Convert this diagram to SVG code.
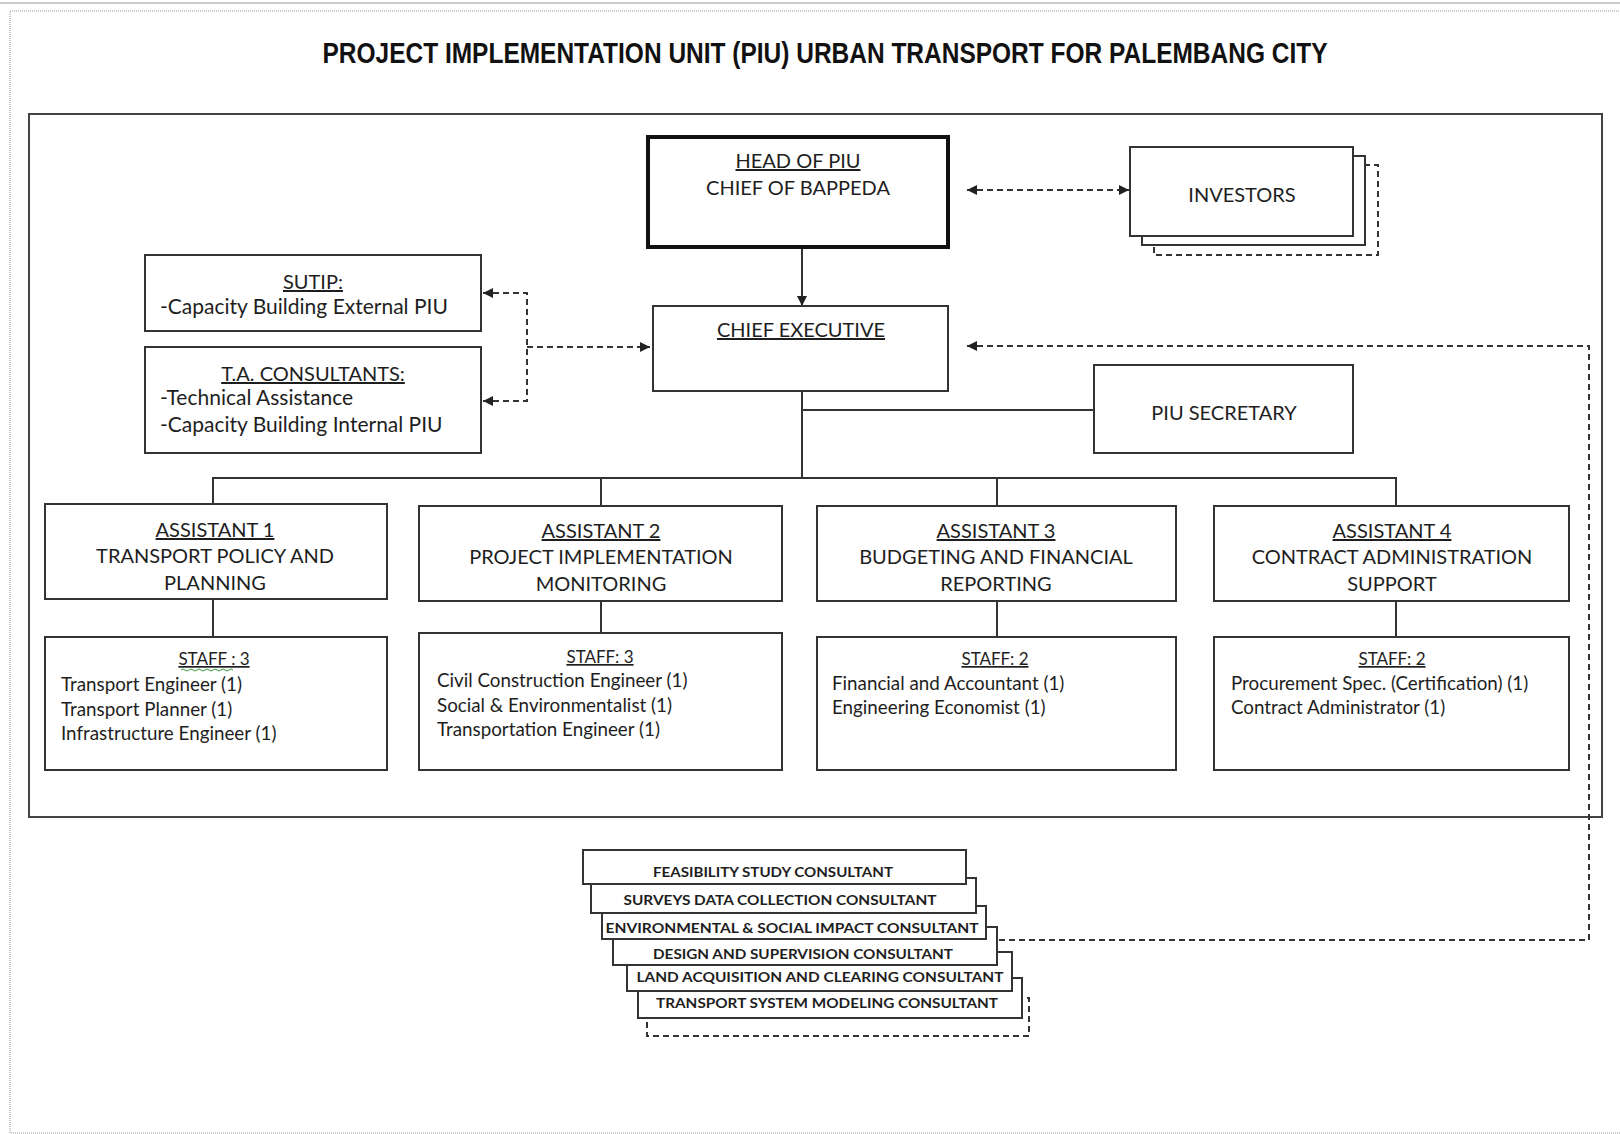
<svg xmlns="http://www.w3.org/2000/svg" width="1620" height="1134" viewBox="0 0 1620 1134">
<style>
.box{fill:#fff;stroke:#333;stroke-width:2}
.dbox{fill:#fff;stroke:#333;stroke-width:2;stroke-dasharray:6 4}
.t{font-family:Lato,"Liberation Sans",sans-serif;fill:#1e1e1e}
.h{font-size:20px;text-anchor:middle}
.s{font-size:21px}
.st{font-size:18.8px}
.sh{font-size:17px;text-anchor:middle}
.c{font-size:14px;font-weight:bold;text-anchor:middle}
.u{text-decoration:underline}
.conn{stroke:#333;stroke-width:2;fill:none}
.dash{stroke:#333;stroke-width:2;fill:none;stroke-dasharray:6 4}
</style>
<defs>
<marker id="arr" viewBox="0 0 10 10" refX="10" refY="5" markerWidth="10" markerHeight="10" markerUnits="userSpaceOnUse" orient="auto-start-reverse">
<path d="M0,0 L10,5 L0,10 z" fill="#222"/>
</marker>
</defs>
<rect width="1620" height="1134" fill="#fff"/>
<line x1="0" y1="3" x2="1620" y2="3" stroke="#ccc" stroke-width="2"/>
<rect x="10" y="11" width="1640" height="1122" fill="none" stroke="#999" stroke-width="1" stroke-dasharray="1 1"/>
<text x="825" y="63" font-family="'Liberation Sans',Arial,sans-serif" font-weight="bold" font-size="29" text-anchor="middle" fill="#111" textLength="1005" lengthAdjust="spacingAndGlyphs">PROJECT IMPLEMENTATION UNIT (PIU) URBAN TRANSPORT FOR PALEMBANG CITY</text>
<rect id="frame" x="29" y="114" width="1573" height="703" fill="none" stroke="#444" stroke-width="2"/>

<g id="connectors">
<path class="conn" d="M802,247 V306" marker-end="url(#arr)"/>
<path class="dash" d="M967,190 H1129" marker-start="url(#arr)" marker-end="url(#arr)"/>
<path class="dash" d="M483,293 H527 V401 H483" marker-start="url(#arr)" marker-end="url(#arr)"/>
<path class="dash" d="M527,347 H650" marker-end="url(#arr)"/>
<path class="conn" d="M802,391 V478"/>
<path class="conn" d="M802,410 H1094"/>
<path class="conn" d="M213,504 V478 H1396 V506"/>
<path class="conn" d="M601,478 V506"/>
<path class="conn" d="M997,478 V506"/>
<path class="conn" d="M213,599 V637"/>
<path class="conn" d="M601,601 V633"/>
<path class="conn" d="M997,601 V637"/>
<path class="conn" d="M1396,601 V637"/>
<path class="dash" d="M999,940 H1589 V346 H967" marker-end="url(#arr)"/>
</g>

<g id="head">
<rect x="648" y="137" width="300" height="110" fill="#fff" stroke="#111" stroke-width="4"/>
<text class="t h u" x="798" y="168">HEAD OF PIU</text>
<text class="t h" x="798" y="195">CHIEF OF BAPPEDA</text>
</g>

<g id="investors">
<rect class="dbox" x="1154" y="165" width="224" height="90"/>
<rect class="box" x="1142" y="156" width="223" height="89"/>
<rect class="box" x="1130" y="147" width="223" height="89"/>
<text class="t h" x="1242" y="202">INVESTORS</text>
</g>

<g id="chief-executive">
<rect class="box" x="653" y="306" width="295" height="85"/>
<text class="t h u" x="801" y="337">CHIEF EXECUTIVE</text>
</g>

<g id="sutip">
<rect class="box" x="145" y="255" width="336" height="76"/>
<text class="t h u" x="313" y="289">SUTIP:</text>
<text class="t s" x="160" y="314">-Capacity Building External PIU</text>
</g>

<g id="ta-consultants">
<rect class="box" x="145" y="347" width="336" height="106"/>
<text class="t h u" x="313" y="381">T.A. CONSULTANTS:</text>
<text class="t s" x="160" y="405">-Technical Assistance</text>
<text class="t s" x="160" y="432">-Capacity Building Internal PIU</text>
</g>

<g id="piu-secretary">
<rect class="box" x="1094" y="365" width="259" height="88"/>
<text class="t h" x="1224" y="420">PIU SECRETARY</text>
</g>

<g id="assistant-1">
<rect class="box" x="45" y="504" width="342" height="95"/>
<text class="t h u" x="215" y="537">ASSISTANT 1</text>
<text class="t h" x="215" y="563">TRANSPORT POLICY AND</text>
<text class="t h" x="215" y="590">PLANNING</text>
</g>
<g id="assistant-2">
<rect class="box" x="419" y="506" width="363" height="95"/>
<text class="t h u" x="601" y="538">ASSISTANT 2</text>
<text class="t h" x="601" y="564">PROJECT IMPLEMENTATION</text>
<text class="t h" x="601" y="591">MONITORING</text>
</g>
<g id="assistant-3">
<rect class="box" x="817" y="506" width="359" height="95"/>
<text class="t h u" x="996" y="538">ASSISTANT 3</text>
<text class="t h" x="996" y="564">BUDGETING AND FINANCIAL</text>
<text class="t h" x="996" y="591">REPORTING</text>
</g>
<g id="assistant-4">
<rect class="box" x="1214" y="506" width="355" height="95"/>
<text class="t h u" x="1392" y="538">ASSISTANT 4</text>
<text class="t h" x="1392" y="564">CONTRACT ADMINISTRATION</text>
<text class="t h" x="1392" y="591">SUPPORT</text>
</g>

<g id="staff-1">
<rect class="box" x="45" y="637" width="342" height="133"/>
<text class="t sh u" x="214" y="665">STAFF : 3</text>
<path d="M181,670 q2,-2 4,0 t4,0 t4,0 t4,0 t4,0 t4,0 t4,0 t4,0 t4,0 t4,0 t4,0 t4,0 t4,0" fill="none" stroke="#3a9a3a" stroke-width="1"/>
<text class="t st" x="61" y="691">Transport Engineer (1)</text>
<text class="t st" x="61" y="716">Transport Planner (1)</text>
<text class="t st" x="61" y="740">Infrastructure Engineer (1)</text>
</g>
<g id="staff-2">
<rect class="box" x="419" y="633" width="363" height="137"/>
<text class="t sh u" x="600" y="663">STAFF: 3</text>
<text class="t st" x="437" y="687">Civil Construction Engineer (1)</text>
<text class="t st" x="437" y="712">Social &amp; Environmentalist (1)</text>
<text class="t st" x="437" y="736">Transportation Engineer (1)</text>
</g>
<g id="staff-3">
<rect class="box" x="817" y="637" width="359" height="133"/>
<text class="t sh u" x="995" y="665">STAFF: 2</text>
<text class="t st" x="832" y="690">Financial and Accountant (1)</text>
<text class="t st" x="832" y="714">Engineering Economist (1)</text>
</g>
<g id="staff-4">
<rect class="box" x="1214" y="637" width="355" height="133"/>
<text class="t sh u" x="1392" y="665">STAFF: 2</text>
<text class="t st" x="1231" y="690">Procurement Spec. (Certification) (1)</text>
<text class="t st" x="1231" y="714">Contract Administrator (1)</text>
</g>

<g id="consultants">
<rect class="dbox" x="647" y="998" width="382" height="38"/>
<rect class="box" x="638" y="978" width="384" height="40"/>
<rect class="box" x="627" y="952" width="385" height="39"/>
<rect class="box" x="613" y="927" width="384" height="38"/>
<rect class="box" x="602" y="906" width="384" height="33"/>
<rect class="box" x="591" y="878" width="385" height="35"/>
<rect class="box" x="583" y="850" width="383" height="34"/>
<text class="t c" x="773" y="877" textLength="240" lengthAdjust="spacingAndGlyphs">FEASIBILITY STUDY CONSULTANT</text>
<text class="t c" x="780" y="905" textLength="313" lengthAdjust="spacingAndGlyphs">SURVEYS DATA COLLECTION  CONSULTANT</text>
<text class="t c" x="792" y="933" textLength="373" lengthAdjust="spacingAndGlyphs">ENVIRONMENTAL &amp; SOCIAL IMPACT CONSULTANT</text>
<text class="t c" x="803" y="959" textLength="300" lengthAdjust="spacingAndGlyphs">DESIGN AND SUPERVISION CONSULTANT</text>
<text class="t c" x="820" y="982" textLength="367" lengthAdjust="spacingAndGlyphs">LAND ACQUISITION AND CLEARING  CONSULTANT</text>
<text class="t c" x="827" y="1008" textLength="342" lengthAdjust="spacingAndGlyphs">TRANSPORT SYSTEM MODELING CONSULTANT</text>
</g>
</svg>
